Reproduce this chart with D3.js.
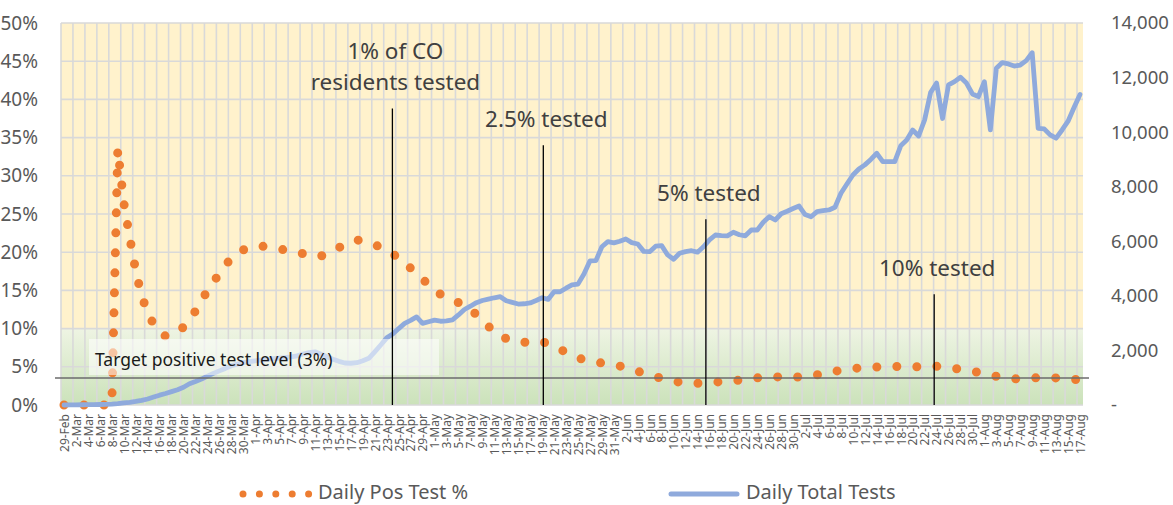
<!DOCTYPE html>
<html>
<head>
<meta charset="utf-8">
<script src="https://cdn.jsdelivr.net/npm/d3@7"></script>
<style>
  body { margin: 0; background: #fff; }
  svg { display: block; font-family: "Segoe UI", "Noto Sans", sans-serif; }
</style>
</head>
<body>
<div id="chart-area"><svg></svg></div>
<script>
const chartSize = { width: 1173, height: 505 };
const margin = { left: 61, right: 90, top: 23, bottom: 100 };
const width = chartSize.width - margin.left - margin.right;
const height = chartSize.height - margin.top - margin.bottom;

// categories: one per day, 29-Feb .. 17-Aug
const firstDay = new Date(Date.UTC(2020, 1, 29));
const lastDay = new Date(Date.UTC(2020, 7, 17));
const days = d3.utcDay.range(firstDay, d3.utcDay.offset(lastDay, 1));

// Daily Pos Test %
const posRate = [
  0, 0, 0, 0, 0, 0, 0, 0, 0, 33.5,
  26.5, 21.9, 17.6, 14.2, 12.2, 10.5, 9.6, 9.0, 9.2, 9.6,
  10.2, 11.2, 12.3, 13.6, 15.0, 16.1, 17.2, 18.3, 19.2, 19.8,
  20.3, 20.6, 20.8, 20.8, 20.7, 20.5, 20.4, 20.3, 20.2, 20.0,
  19.8, 19.6, 19.4, 19.5, 19.8, 20.1, 20.6, 21.0, 21.4, 21.6,
  21.5, 21.3, 21.0, 20.6, 20.2, 19.8, 19.2, 18.7, 17.9, 17.3,
  16.5, 15.7, 14.9, 14.5, 14.1, 13.8, 13.4, 13.0, 12.6, 11.8,
  11.0, 10.3, 9.6, 9.0, 8.7, 8.4, 8.2, 8.2, 8.3, 8.4,
  8.3, 8.0, 7.7, 7.3, 6.9, 6.5, 6.2, 5.9, 5.7, 5.6,
  5.5, 5.4, 5.3, 5.1, 4.9, 4.7, 4.4, 4.2, 3.9, 3.7,
  3.5, 3.3, 3.1, 3.0, 2.9, 2.85, 2.85, 2.9, 2.95, 3.0,
  3.05, 3.1, 3.15, 3.25, 3.35, 3.45, 3.55, 3.6, 3.65, 3.68,
  3.67, 3.65, 3.64, 3.68, 3.72, 3.78, 3.95, 4.15, 4.32, 4.42,
  4.55, 4.65, 4.76, 4.85, 4.9, 4.95, 4.98, 5.0, 5.02, 5.04,
  5.03, 5.0, 4.99, 5.02, 5.05, 5.08, 5.06, 4.98, 4.88, 4.78,
  4.68, 4.55, 4.42, 4.26, 4.08, 3.92, 3.76, 3.6, 3.48, 3.42,
  3.44, 3.5, 3.55, 3.56, 3.56, 3.55, 3.55, 3.5, 3.42, 3.35,
  3.32
];

// Daily Total Tests
const totalTests = [
  0, 3, 6, 9, 12, 15, 18, 25, 35, 50,
  80, 100, 130, 170, 220, 290, 360, 420, 490, 560,
  650, 780, 860, 950, 1060, 1160, 1250, 1340, 1440, 1500,
  1550, 1590, 1620, 1650, 1670, 1700, 1720, 1740, 1760, 1800,
  1870, 1920, 1950, 1860, 1770, 1680, 1600, 1540, 1530, 1550,
  1620, 1710, 1950, 2200, 2460, 2600, 2800, 2990, 3100, 3230,
  2990, 3050, 3110, 3070, 3080, 3120, 3300, 3500, 3620, 3750,
  3830, 3880, 3930, 3970, 3820, 3760, 3700, 3710, 3740, 3830,
  3930, 3870, 4150, 4150, 4280, 4400, 4430, 4800, 5280, 5290,
  5800, 5985, 5940, 6000, 6084, 5950, 5900, 5630, 5618, 5820,
  5840, 5500, 5340, 5560, 5620, 5654, 5600, 5800, 6050, 6230,
  6210, 6200, 6330, 6240, 6200, 6414, 6414, 6700, 6900, 6780,
  7010, 7100, 7200, 7293, 6980, 6900, 7084, 7120, 7147, 7246,
  7760, 8100, 8430, 8650, 8800, 9000, 9225, 8917, 8917, 8917,
  9500, 9712, 10079, 9860, 10450, 11450, 11800, 10500, 11730, 11850,
  12010, 11800, 11400, 11300, 11850, 10080, 12340, 12550, 12500, 12420,
  12460, 12620, 12910, 10140, 10120, 9900, 9780, 10080, 10400, 10900,
  11380
];

const pctTicks = [0, 5, 10, 15, 20, 25, 30, 35, 40, 45, 50];
const testTicks = [0, 2000, 4000, 6000, 8000, 10000, 12000, 14000];
const greenZoneTop = 10;     // % level where the green band starts
const targetLinePct = 3.55;  // where the target line is drawn
const targetText = "Target positive test level (3%)";

// milestone annotations: day index, top of line (in %), text lines
const milestones = [
  { day: 54.95, top: 38.8, text: ["1% of CO", "residents tested"] },
  { day: 80.2, top: 34.0, text: ["2.5% tested"] },
  { day: 107.4, top: 24.3, text: ["5% tested"] },
  { day: 145.6, top: 14.5, text: ["10% tested"] }
];

const seriesNames = ["Daily Pos Test %", "Daily Total Tests"];
const orange = "#ED7D31";
const blue = "#8FAADC";

const fmtDay = d3.utcFormat("%-d-%b");

const svg = d3.select("#chart-area svg")
  .attr("width", chartSize.width)
  .attr("height", chartSize.height);

const x = d3.scaleLinear()
  .domain([-0.5, days.length - 0.5])
  .range([margin.left, margin.left + width]);
const yL = d3.scaleLinear().domain([0, 50]).range([margin.top + height, margin.top]);
const yR = d3.scaleLinear().domain([0, 14000]).range([margin.top + height, margin.top]);

// background: yellow with a green band at the bottom
const defs = svg.append("defs");
const grad = defs.append("linearGradient")
  .attr("id", "greenFade").attr("x1", 0).attr("y1", 0).attr("x2", 0).attr("y2", 1);
grad.append("stop").attr("offset", "0%").attr("stop-color", "#EEF4E3");
grad.append("stop").attr("offset", "100%").attr("stop-color", "#CBE2BA");

svg.append("rect")
  .attr("x", x(-0.5)).attr("width", x(days.length - 0.5) - x(-0.5))
  .attr("y", yL(50)).attr("height", yL(greenZoneTop) - yL(50))
  .attr("fill", "#FFF2CC");
svg.append("rect")
  .attr("x", x(-0.5)).attr("width", x(days.length - 0.5) - x(-0.5))
  .attr("y", yL(greenZoneTop)).attr("height", yL(0) - yL(greenZoneTop))
  .attr("fill", "url(#greenFade)");

// gridlines
const grid = svg.append("g").attr("stroke", "#D9D9D9").attr("stroke-width", 1.6);
grid.selectAll(".hg").data(pctTicks).join("line")
  .attr("x1", x(-0.5)).attr("x2", x(days.length - 0.5))
  .attr("y1", d => yL(d)).attr("y2", d => yL(d));
const vBounds = d3.range(0, days.length, 2);
grid.selectAll(".vg").data(vBounds).join("line")
  .attr("x1", d => x(d - 0.5)).attr("x2", d => x(d - 0.5))
  .attr("y1", yL(50)).attr("y2", yL(0));

// axes
const leftAxis = d3.axisLeft(yL).tickValues(pctTicks).tickFormat(d => d + "%")
  .tickSize(0).tickPadding(23);
svg.append("g").attr("class", "y-axis")
  .attr("transform", `translate(${margin.left},0)`)
  .call(leftAxis)
  .call(g => g.select(".domain").remove())
  .selectAll("text").attr("fill", "#595959").style("font-size", "19px");

const rightAxis = d3.axisRight(yR).tickValues(testTicks)
  .tickFormat(d => d === 0 ? "-" : d3.format(",")(d))
  .tickSize(0).tickPadding(28);
svg.append("g").attr("class", "y2-axis")
  .attr("transform", `translate(${margin.left + width},0)`)
  .call(rightAxis)
  .call(g => g.select(".domain").remove())
  .selectAll("text").attr("fill", "#595959").style("font-size", "18.5px");

const xAxis = d3.axisBottom(x).tickValues(d3.range(0, days.length, 2))
  .tickFormat(i => fmtDay(days[i])).tickSize(0);
svg.append("g").attr("class", "x-axis")
  .attr("transform", `translate(0,${margin.top + height})`)
  .call(xAxis)
  .call(g => g.select(".domain").remove())
  .selectAll("text")
  .attr("transform", "rotate(-90)")
  .attr("text-anchor", "end")
  .attr("x", -9).attr("y", 0).attr("dy", "0.36em")
  .attr("fill", "#595959").style("font-size", "12px");

svg.selectAll(".x-axis, .y-axis, .y2-axis").attr("font-family", null);

// series
const posLine = d3.line().x((d, i) => x(i)).y(d => yL(d));
svg.append("path")
  .attr("d", posLine(posRate))
  .attr("fill", "none").attr("stroke", orange).attr("stroke-width", 9)
  .attr("stroke-linecap", "round").attr("stroke-dasharray", "0 20");

const testLine = d3.line().x((d, i) => x(i)).y(d => yR(d));
svg.append("path")
  .attr("d", testLine(totalTests))
  .attr("fill", "none").attr("stroke", blue).attr("stroke-width", 4.8)
  .attr("stroke-linejoin", "round").attr("stroke-linecap", "round");

// target label box + line
svg.append("rect")
  .attr("x", 89).attr("y", 339)
  .attr("width", 350).attr("height", 36)
  .attr("fill", "#fff").attr("fill-opacity", 0.55);
svg.append("text")
  .attr("x", 95).attr("y", 366)
  .attr("fill", "#1a1a1a").style("font-size", "17.5px")
  .text(targetText);

svg.append("line")
  .attr("x1", x(-0.5) - 6).attr("x2", x(days.length - 0.5) + 6)
  .attr("y1", yL(targetLinePct)).attr("y2", yL(targetLinePct))
  .attr("stroke", "#6b6b6b").attr("stroke-width", 1.5);

// milestones
const ms = svg.append("g").attr("class", "milestones");
milestones.forEach(m => {
  ms.append("line")
    .attr("x1", x(m.day)).attr("x2", x(m.day))
    .attr("y1", yL(m.top)).attr("y2", yL(0))
    .attr("stroke", "#000").attr("stroke-width", 1.3);
  const n = m.text.length;
  m.text.forEach((t, k) => {
    ms.append("text")
      .attr("x", x(m.day) + 3)
      .attr("y", yL(m.top) - 26 - (n - 1 - k) * 31)
      .attr("dy", "0.35em")
      .attr("text-anchor", "middle")
      .attr("fill", "#404040").style("font-size", "22.5px")
      .text(t);
  });
});

// legend
const legend = svg.append("g").attr("class", "legend");
legend.append("line")
  .attr("x1", 243).attr("x2", 309).attr("y1", 494).attr("y2", 494)
  .attr("stroke", orange).attr("stroke-width", 7)
  .attr("stroke-linecap", "round").attr("stroke-dasharray", "0 16.4");
legend.append("text").attr("x", 318).attr("y", 499)
  .attr("fill", "#595959").style("font-size", "20px").text(seriesNames[0]);
legend.append("line")
  .attr("x1", 671).attr("x2", 737).attr("y1", 494).attr("y2", 494)
  .attr("stroke", blue).attr("stroke-width", 5).attr("stroke-linecap", "round");
legend.append("text").attr("x", 746).attr("y", 499)
  .attr("fill", "#595959").style("font-size", "20px").text(seriesNames[1]);
</script>
</body>
</html>
